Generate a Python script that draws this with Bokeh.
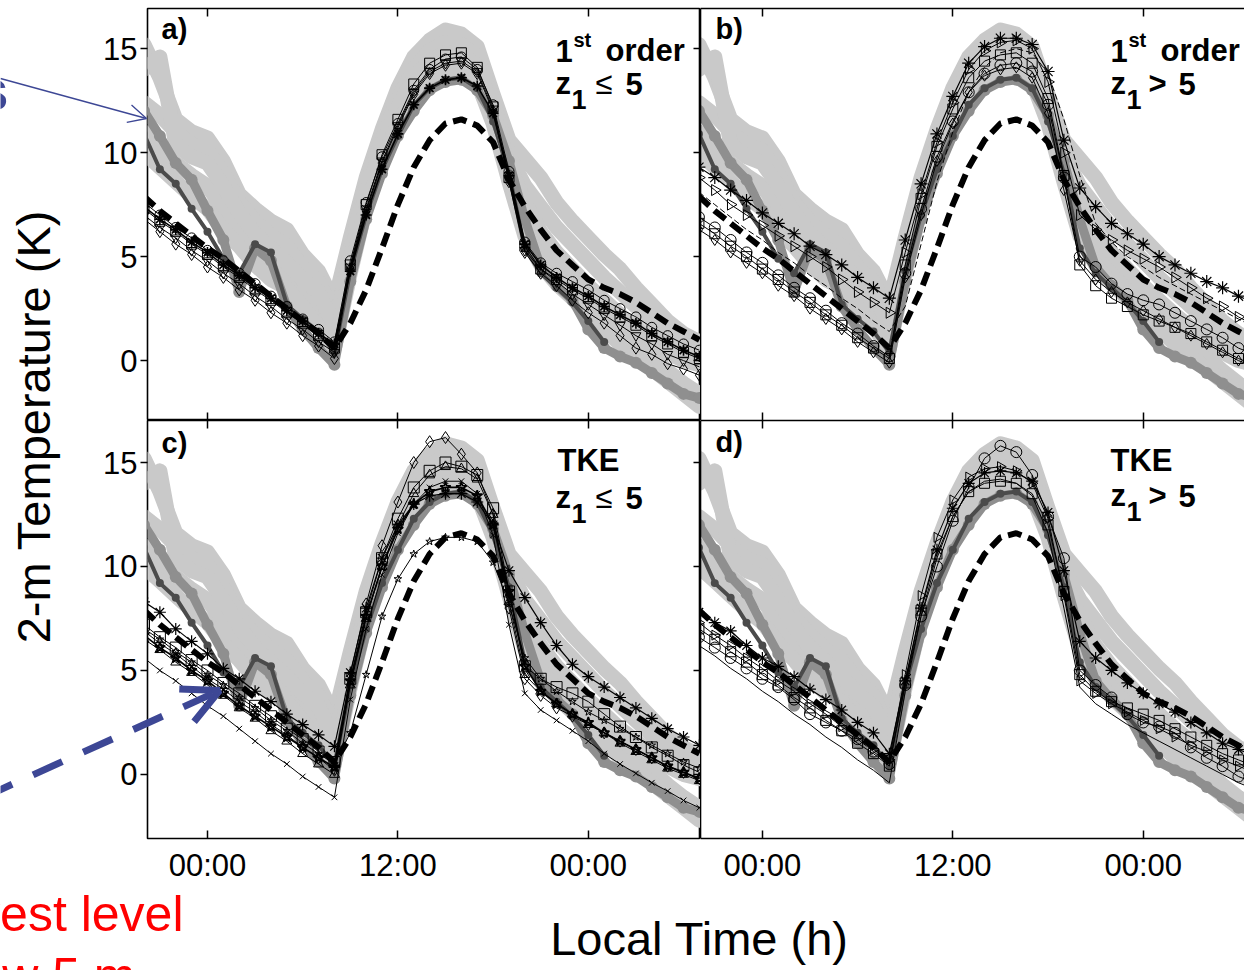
import math
from bokeh.plotting import figure
from bokeh.models import (Range1d, LinearAxis, FixedTicker, CustomJSTickFormatter,
                          Label, Arrow, OpenHead)
from bokeh.layouts import column, row
from bokeh.embed import file_html
from bokeh.resources import INLINE

# ---------------- data (hourly, local time in hours) ----------------
hours = [-4, -3, -2, -1, 0, 1, 2, 3, 4, 5, 6, 7, 8, 9, 10, 11, 12, 13, 14, 15,
         16, 17, 18, 19, 20, 21, 22, 23, 24, 25, 26, 27, 28, 29, 30, 31]

# observations (shared by all panels)
obs_light_1 = [15.2, 13.6, 11.6, 11.0, 10.7, 9.6, 8.0, 7.3, 6.7, 6.3, 5.1, 4.3, 2.8,
               5.9, 8.8, 11.1, 13.1, 14.6, 15.4, 15.9, 15.7, 15.1, 12.8, 10.6, 9.7,
               8.8, 7.6, 6.7, 5.9, 5.1, 4.4, 3.5, 2.7, 1.9, 1.3, 0.9]
obs_light_2 = [14.0, 14.6, 10.4, 9.8, 9.5, 8.4, 7.1, 6.1, 5.4, 4.7, 3.9, 3.3, 1.6,
               5.0, 8.0, 10.3, 12.2, 13.6, 14.4, 14.8, 14.7, 14.2, 12.0, 9.4, 7.6,
               6.2, 5.2, 4.4, 3.6, 2.9, 2.2, 1.6, 1.0, 0.4, 0.0, -0.2]
obs_light_3 = [10.0, 9.3, 8.6, 7.9, 7.3, 6.3, 5.5, 4.6, 3.9, 3.5, 2.6, 1.6, 0.6,
               4.2, 7.4, 9.6, 11.4, 12.8, 13.6, 14.0, 14.0, 13.4, 11.4, 8.6, 6.0,
               4.6, 3.7, 3.0, 2.2, 1.5, 0.8, 0.2, -0.4, -1.0, -1.6, -2.2]
obs_light_4 = [12.4, 11.8, 11.0, 10.4, 10.1, 9.0, 7.6, 6.7, 6.0, 5.5, 4.5, 3.8, 2.2,
               4.6, 7.8, 10.0, 11.8, 13.2, 14.0, 14.4, 14.4, 13.8, 11.8, 9.0, 6.8,
               5.4, 4.4, 3.6, 2.9, 2.2, 1.4, 0.8, 0.2, -0.5, -1.1, -1.6]
obs_light_5 = [11.0, 10.2, 9.5, 8.9, 8.4, 7.3, 6.4, 5.5, 4.7, 4.2, 3.3, 2.6, 1.2,
               5.3, 8.4, 10.6, 12.6, 14.0, 14.9, 15.3, 15.2, 14.6, 12.4, 9.9, 8.4,
               7.4, 6.4, 5.6, 4.8, 4.0, 3.3, 2.6, 1.9, 1.2, 0.6, 0.2]
obs_mid = [12.0, 10.8, 9.5, 8.7, 7.2, 5.8, 3.3, 5.4, 4.8, 2.6, 1.5, 0.6, -0.2,
           3.8, 6.8, 9.0, 10.8, 12.0, 13.0, 13.4, 13.5, 13.0, 11.8, 9.6, 6.8,
           4.5, 3.6, 2.9, 1.5, 0.6, 0.2, -0.1, -0.6, -1.1, -1.6, -1.8]
obs_dark = [10.9, 9.2, 8.5, 7.3, 6.2, 4.9, 4.2, 5.6, 5.2, 2.7, 2.0, 1.4, 0.4,
            4.3, 7.0, 9.2, 10.8, 12.3, 13.1, 13.5, 13.6, 13.1, 11.5, 9.0, 5.4,
            4.2, 3.5, 2.8, 1.9, 0.9]
model_dash = [7.9, 7.2, 6.6, 6.0, 5.4, 4.9, 4.3, 3.7, 3.1, 2.5, 1.9, 1.3, 0.6,
              1.8, 3.4, 5.4, 7.5, 9.3, 10.6, 11.4, 11.6, 11.3, 10.5, 8.7, 7.4,
              6.3, 5.3, 4.6, 3.9, 3.5, 3.2, 2.8, 2.3, 1.8, 1.4, 1.0]

# panel a) 1st order, z1 <= 5
a_circle = [7.6, 7.0, 6.4, 5.9, 5.3, 4.8, 4.2, 3.7, 3.1, 2.6, 2.0, 1.5, 0.9,
            4.8, 7.6, 9.8, 11.4, 13.0, 14.0, 14.5, 14.6, 14.0, 12.3, 9.1, 5.7,
            4.7, 4.2, 3.8, 3.4, 2.9, 2.5, 2.1, 1.6, 1.2, 0.8, 0.5]
a_square = [7.3, 6.7, 6.2, 5.6, 5.1, 4.5, 4.0, 3.4, 2.9, 2.3, 1.8, 1.2, 0.6,
            4.6, 7.5, 9.9, 11.6, 13.3, 14.3, 14.7, 14.8, 14.1, 12.2, 8.8, 5.5,
            4.4, 3.9, 3.4, 3.0, 2.5, 2.1, 1.7, 1.2, 0.8, 0.4, 0.1]
a_diamond = [6.8, 6.2, 5.6, 5.1, 4.5, 4.0, 3.4, 2.9, 2.3, 1.8, 1.2, 0.7, 0.1,
             4.4, 7.2, 9.5, 11.2, 12.8, 13.8, 14.2, 14.3, 13.8, 12.0, 8.6, 5.2,
             4.2, 3.6, 2.9, 2.3, 1.8, 1.2, 0.6, 0.3, -0.15, -0.4, -0.7]
a_triangle = [7.0, 6.4, 5.9, 5.3, 4.8, 4.2, 3.7, 3.1, 2.6, 2.0, 1.5, 0.9, 0.4,
              4.5, 7.3, 9.6, 11.3, 12.9, 13.9, 14.3, 14.4, 13.9, 12.1, 8.7, 5.3,
              4.4, 3.8, 3.2, 2.7, 2.2, 1.7, 1.2, 0.8, 0.3, 0.0, -0.3]
a_asterisk = [7.4, 6.8, 6.3, 5.7, 5.2, 4.6, 4.1, 3.5, 3.0, 2.4, 1.9, 1.3, 0.8,
              4.3, 7.0, 9.2, 10.9, 12.3, 13.1, 13.5, 13.6, 13.2, 11.9, 8.9, 5.6,
              4.6, 4.0, 3.5, 3.1, 2.6, 2.2, 1.8, 1.3, 0.9, 0.5, 0.2]

# panel b) 1st order, z1 > 5
b_asterisk = [9.3, 8.8, 8.2, 7.7, 7.1, 6.6, 6.1, 5.5, 5.1, 4.6, 4.0, 3.5, 3.0,
              5.8, 8.5, 10.9, 12.7, 14.3, 15.1, 15.5, 15.5, 15.2, 13.9, 10.6, 8.3,
              7.4, 6.6, 6.1, 5.6, 5.0, 4.6, 4.2, 3.8, 3.5, 3.1, 2.8]
b_triangle = [8.8, 8.2, 7.5, 7.0, 6.5, 6.0, 5.5, 5.0, 4.5, 3.9, 3.3, 2.8, 2.3,
              5.2, 8.0, 10.5, 12.4, 14.0, 14.9, 15.3, 15.4, 15.0, 13.4, 10.0, 7.0,
              6.3, 5.8, 5.3, 4.9, 4.5, 4.0, 3.5, 3.0, 2.6, 2.1, 1.7]
b_circle = [6.9, 6.4, 5.8, 5.2, 4.7, 4.1, 3.5, 3.0, 2.4, 1.8, 1.3, 0.7, 0.2,
            4.2, 7.3, 9.8, 11.5, 12.9, 13.8, 14.2, 14.3, 13.9, 12.3, 8.8, 5.0,
            4.5, 3.7, 3.2, 2.9, 2.7, 2.3, 1.9, 1.5, 1.1, 0.6, 0.3]
b_square = [6.6, 6.1, 5.5, 5.0, 4.4, 3.9, 3.3, 2.8, 2.2, 1.7, 1.1, 0.6, 0.1,
            4.6, 7.8, 10.3, 12.1, 13.6, 14.4, 14.7, 14.8, 14.3, 12.6, 8.9, 4.6,
            3.6, 3.0, 2.6, 2.2, 1.9, 1.6, 1.3, 0.9, 0.5, 0.1, -0.2]
b_diamond = [6.3, 5.8, 5.2, 4.7, 4.2, 3.6, 3.1, 2.5, 2.0, 1.5, 0.9, 0.4, -0.1,
             4.0, 7.0, 9.6, 11.4, 12.9, 13.7, 14.0, 14.1, 13.6, 11.9, 8.2, 4.8,
             3.9, 3.3, 2.8, 2.4, 2.0, 1.6, 1.2, 0.8, 0.4, 0.0, -0.3]
b_dashed = [8.1, 7.5, 6.9, 6.3, 5.8, 5.2, 4.7, 4.1, 3.6, 3.0, 2.5, 1.9, 1.4,
            2.6, 5.6, 8.6, 11.0, 12.9, 14.1, 14.8, 15.0, 14.8, 13.8, 11.6, 8.9,
            6.6, 5.7, 5.0, 4.5, 4.0, 3.6, 3.2, 2.8, 2.4, 2.0, 1.6]

# panel c) TKE, z1 <= 5
c_asterisk = [8.3, 7.8, 7.0, 6.4, 5.8, 5.1, 4.6, 4.0, 3.5, 2.9, 2.4, 1.9, 1.35,
              4.9, 8.0, 10.4, 12.0, 13.0, 13.4, 13.5, 13.5, 13.1, 12.0, 9.8, 8.5,
              7.3, 6.2, 5.3, 4.7, 4.2, 3.7, 3.2, 2.7, 2.2, 1.8, 1.4]
c_x = [5.6, 5.0, 4.5, 3.9, 3.3, 2.8, 2.2, 1.6, 1.0, 0.5, -0.1, -0.6, -1.1,
       3.6, 7.0, 9.6, 11.6, 13.0, 13.8, 14.1, 14.1, 13.5, 11.5, 7.2, 3.9,
       3.1, 2.6, 2.1, 1.6, 1.0, 0.5, 0.05, -0.4, -0.8, -1.25, -1.6]
c_star = [6.7, 6.1, 5.6, 5.0, 4.5, 3.9, 3.3, 2.8, 2.3, 1.8, 1.3, 0.8, 0.35,
          4.5, 7.6, 10.0, 11.8, 13.0, 13.6, 13.8, 13.8, 13.4, 12.0, 8.8, 5.2,
          4.0, 3.4, 2.9, 2.5, 2.0, 1.6, 1.2, 0.8, 0.4, 0.1, -0.2]
c_star_low = [7.0, 6.5, 5.9, 5.4, 4.8, 4.3, 3.7, 3.2, 2.6, 2.1, 1.5, 1.0, 0.5,
              2.0, 4.8, 7.6, 9.4, 10.6, 11.2, 11.4, 11.4, 11.2, 10.2, 8.2, 5.6,
              4.6, 4.0, 3.5, 3.0, 2.6, 2.2, 1.8, 1.4, 1.0, 0.6, 0.3]
c_diamond = [6.9, 6.3, 5.8, 5.2, 4.6, 4.1, 3.5, 3.0, 2.4, 1.9, 1.3, 0.8, 0.2,
             4.8, 8.2, 11.0, 13.1, 15.0, 16.0, 16.2, 15.4, 14.5, 12.5, 8.0, 4.6,
             3.8, 3.2, 2.8, 2.4, 2.0, 1.6, 1.2, 0.8, 0.4, 0.1, -0.2]
c_square = [7.2, 6.6, 6.1, 5.5, 5.0, 4.4, 3.9, 3.3, 2.8, 2.2, 1.7, 1.1, 0.6,
            4.6, 7.8, 10.4, 12.3, 13.8, 14.6, 15.0, 14.8, 14.4, 12.8, 8.8, 5.2,
            4.6, 4.2, 3.9, 3.5, 2.9, 2.3, 1.8, 1.3, 0.9, 0.45, 0.1]
c_triangle = [6.5, 6.0, 5.4, 4.9, 4.3, 3.8, 3.2, 2.7, 2.1, 1.6, 1.0, 0.5, 0.0,
              4.3, 7.5, 10.0, 12.0, 13.5, 14.4, 14.8, 14.7, 14.2, 12.5, 8.3, 4.8,
              4.0, 3.4, 2.9, 2.4, 2.0, 1.5, 1.1, 0.7, 0.3, 0.0, -0.3]

# panel d) TKE, z1 > 5
d_circle = [6.6, 6.1, 5.6, 5.1, 4.6, 4.2, 3.6, 2.9, 2.5, 2.1, 1.7, 1.1, 0.5,
            4.3, 7.6, 10.0, 12.2, 13.8, 15.2, 15.8, 15.5, 14.4, 12.4, 10.4, 5.0,
            4.3, 3.7, 2.9, 2.5, 2.3, 2.0, 1.3, 0.8, 0.4, -0.1, -0.4]
d_asterisk = [7.8, 7.3, 6.9, 6.2, 5.6, 5.2, 4.7, 4.1, 3.6, 3.1, 2.5, 2.0, 1.0,
              4.5, 8.0, 10.8, 12.8, 14.0, 14.5, 14.6, 14.5, 14.1, 12.6, 9.8, 6.4,
              5.6, 5.0, 4.4, 3.9, 3.4, 3.0, 2.5, 2.0, 1.5, 1.2, 0.9]
d_square = [7.0, 6.5, 5.9, 5.4, 4.8, 4.3, 3.7, 3.2, 2.6, 2.1, 1.5, 1.0, 0.4,
            4.4, 7.9, 10.6, 12.4, 13.6, 14.0, 14.1, 14.0, 13.5, 12.0, 8.8, 4.8,
            4.0, 3.5, 3.2, 2.9, 2.6, 2.2, 1.8, 1.4, 1.0, 0.7, 0.4]
d_triangle = [7.3, 6.7, 6.2, 5.6, 5.1, 4.5, 4.0, 3.4, 2.9, 2.3, 1.8, 1.2, 0.7,
              4.8, 8.6, 11.4, 13.2, 14.3, 14.7, 14.8, 14.6, 14.0, 12.3, 8.6, 4.5,
              3.9, 3.4, 3.0, 2.6, 2.2, 1.8, 1.4, 1.1, 0.7, 0.4, 0.1]
d_plain = [6.2, 5.7, 5.1, 4.6, 4.0, 3.5, 2.9, 2.4, 1.8, 1.3, 0.7, 0.2, -0.4,
           4.0, 7.6, 10.4, 12.4, 13.6, 14.1, 14.2, 14.0, 13.4, 11.6, 8.0, 4.2,
           3.4, 2.9, 2.4, 2.0, 1.6, 1.2, 0.8, 0.4, 0.0, -0.4, -0.7]

y_ticks = [0, 5, 10, 15]
y_tick_labels = ["0", "5", "10", "15"]
x_ticks = [0, 12, 24]
x_tick_labels = ["00:00", "12:00", "00:00"]

# ---------------- styling ----------------
FONT = "Liberation Sans"
LIGHT = "#c9c9c9"
MID = "#8f8f8f"
DARK = "#4b4b4b"
BLUE = "#3d4795"


def axis(ticks, tin, tout, labels=None, size="31px", standoff=3, line=False):
    ax = LinearAxis(ticker=FixedTicker(ticks=ticks))
    ax.major_tick_in = tin
    ax.major_tick_out = tout
    ax.minor_tick_line_color = None
    ax.major_tick_line_color = "black"
    ax.major_tick_line_width = 1.5
    ax.axis_line_color = "black" if line else None
    ax.axis_line_width = 1.6
    if labels is None:
        ax.formatter = CustomJSTickFormatter(code="return '';")
        ax.major_label_text_font_size = "0px"
        ax.major_label_standoff = 0
    else:
        ax.major_label_overrides = {t: s for t, s in zip(ticks, labels)}
        ax.major_label_text_font = FONT
        ax.major_label_text_font_size = size
        ax.major_label_text_color = "black"
        ax.major_label_standoff = standoff
    return ax


def panel(width, height, xr, yr, left, top, bottom, is_left, is_bottom):
    p = figure(width=width, height=height, x_range=Range1d(*xr), y_range=Range1d(*yr),
               output_backend="svg", toolbar_location=None,
               x_axis_location=None, y_axis_location=None,
               min_border_left=left, min_border_right=0,
               min_border_top=top, min_border_bottom=bottom)
    p.grid.visible = False
    p.background_fill_color = "white"
    p.border_fill_color = "white"
    if is_left:
        p.outline_line_color = "black"
        p.outline_line_width = 1.6
        p.add_layout(axis(y_ticks, 0, 7, y_tick_labels, standoff=3), "left")
        p.add_layout(axis(y_ticks, 7, 0), "right")
    else:
        p.outline_line_color = None
        p.add_layout(axis(y_ticks, 0, 0, line=True), "left")
    p.add_layout(axis(x_ticks, 8, 0, line=not is_left), "above")
    if is_bottom:
        p.add_layout(axis(x_ticks, 8, 0, x_tick_labels, standoff=9, line=not is_left), "below")
    else:
        p.add_layout(axis(x_ticks, 8, 0, line=not is_left), "below")
    # observations
    for ys in (obs_light_1, obs_light_5, obs_light_4, obs_light_2, obs_light_3):
        p.line(hours, ys, line_color=LIGHT, line_width=15, line_join="round", line_cap="round")
    p.line(hours, obs_mid, line_color=MID, line_width=9, line_join="round", line_cap="round")
    p.scatter(hours, obs_mid, marker="circle", size=12, line_color=None, fill_color=MID)
    p.line(hours[:len(obs_dark)], obs_dark, line_color=DARK, line_width=4, line_join="round")
    p.scatter(hours[:len(obs_dark)], obs_dark, marker="circle", size=8, line_color=None, fill_color=DARK)
    p.line(hours, model_dash, line_color="black", line_width=6, line_dash="14 7", line_cap="butt")
    return p


def add_models(p, specs):
    for vals, marker, size, lw, dash in specs:
        p.line(hours, vals, line_color="black", line_width=lw, line_dash=dash)
        if marker is None:
            continue
        ang = -math.pi / 2 if marker == "triangle_right" else 0.0
        m = "triangle" if marker == "triangle_right" else marker
        p.scatter(hours, vals, marker=m, size=size, angle=ang, line_color="black",
                  fill_color=None, line_width=lw)


XR_L = (-3.78, 31.07)
XR_R = (-3.9, 30.38)
YR_T = (-2.88, 16.93)
YR_B = (-3.08, 17.02)

fa = panel(700, 420, XR_L, YR_T, 147, 8, 0, True, False)
fb = panel(544, 420, XR_R, YR_T, 0, 8, 0, False, False)
fc = panel(700, 550, XR_L, YR_B, 147, 0, 132, True, True)
fd = panel(544, 550, XR_R, YR_B, 0, 0, 132, False, True)

add_models(fa, [(a_circle, "circle", 10, 1, "solid"),
                (a_square, "square", 10, 1, "solid"),
                (a_diamond, "diamond", 12, 1, "solid"),
                (a_triangle, "inverted_triangle", 10, 1, "solid"),
                (a_asterisk, "asterisk", 11, 1.6, "solid")])
add_models(fb, [(b_dashed, None, 0, 1, "6 3"),
                (b_asterisk, "asterisk", 13, 1.2, "solid"),
                (b_triangle, "triangle_right", 11, 1, "solid"),
                (b_circle, "circle", 11, 1, "solid"),
                (b_square, "square", 10, 1, "solid"),
                (b_diamond, "diamond", 11, 1, "solid")])
add_models(fc, [(c_asterisk, "asterisk", 12, 1.2, "solid"),
                (c_x, "x", 8, 1, "solid"),
                (c_star_low, "star", 8, 1, "solid"),
                (c_diamond, "diamond", 12, 1, "solid"),
                (c_square, "square", 11, 1, "solid"),
                (c_triangle, "triangle", 10, 1, "solid"),
                (c_star, "star", 11, 1.7, "solid")])
add_models(fd, [(d_plain, None, 0, 1, "solid"),
                (d_circle, "circle", 11, 1, "solid"),
                (d_asterisk, "asterisk", 12, 1.2, "solid"),
                (d_square, "square", 10, 1, "solid"),
                (d_triangle, "triangle_right", 10, 1, "solid")])

# ---------------- overlay for page-level annotations ----------------
ov = figure(width=1244, height=970, x_range=Range1d(0, 1244), y_range=Range1d(970, 0),
            output_backend="svg", toolbar_location=None,
            x_axis_location=None, y_axis_location=None, min_border=0,
            background_fill_color=None, border_fill_color=None, outline_line_color=None)
ov.grid.visible = False
ov.styles = {"position": "absolute", "left": "0px", "top": "0px",
             "z-index": "10", "pointer-events": "none"}

SHIFT = 0.41  # measured offset of the rendered baseline, in em


def lab(x, y, text, size, bold=True, color="black", align="left", angle=0.0):
    if angle == 0.0:
        y = y - SHIFT * size
    else:
        x = x - SHIFT * size
    ov.add_layout(Label(x=x, y=y, text=text, text_font=FONT, text_font_size=f"{size}px",
                        text_font_style="bold" if bold else "normal", text_color=color,
                        text_align=align, text_baseline="alphabetic", angle=angle))


# panel tags
lab(161, 40, "a)", 29)
lab(715, 40, "b)", 29)
lab(161, 454, "c)", 29)
lab(715, 453, "d)", 29)

# panel a
lab(555, 63, "1", 31); lab(573, 48, "st", 20); lab(605, 63, "order", 31)
lab(555, 96, "z", 31); lab(571, 110, "1", 27); lab(595, 96, "\u2264", 31, bold=False); lab(625, 96, "5", 31)
# panel b
lab(1110, 63, "1", 31); lab(1128, 48, "st", 20); lab(1160, 63, "order", 31)
lab(1110, 96, "z", 31); lab(1126, 110, "1", 27); lab(1148, 96, ">", 31); lab(1178, 96, "5", 31)
# panel c
lab(557, 473, "TKE", 31)
lab(555, 510, "z", 31); lab(571, 524, "1", 27); lab(595, 510, "\u2264", 31, bold=False); lab(625, 510, "5", 31)
# panel d
lab(1110, 473, "TKE", 31)
lab(1110, 508, "z", 31); lab(1126, 522, "1", 27); lab(1148, 508, ">", 31); lab(1178, 508, "5", 31)

# axis titles
lab(52, 426, "2-m Temperature (K)", 47, bold=False, align="center", angle=math.pi / 2)
lab(699, 957, "Local Time (h)", 47, bold=False, align="center")

# slide annotations (partly cut by the page edge, as in the source)
lab(183, 934, "Lowest level", 50, bold=False, color="#ff0000", align="right")
lab(135, 996, "below 5 m", 50, bold=False, color="#ff0000", align="right")
lab(8, 113, "s", 58, color=BLUE, align="right")

ov.add_layout(Arrow(x_start=0, y_start=78, x_end=146, y_end=118,
                    line_color=BLUE, line_width=1.3,
                    end=OpenHead(size=18, line_color=BLUE, line_width=1.3)))
ov.add_layout(Arrow(x_start=-17.5, y_start=797, x_end=219, y_end=690,
                    line_color=BLUE, line_width=7, line_dash="32 23",
                    end=OpenHead(size=36, line_color=BLUE, line_width=7)))

grid = column(row(fa, fb), row(fc, fd))
root = column(grid, ov, styles={"position": "relative"})

open("out.html", "w").write(file_html(root, INLINE))
